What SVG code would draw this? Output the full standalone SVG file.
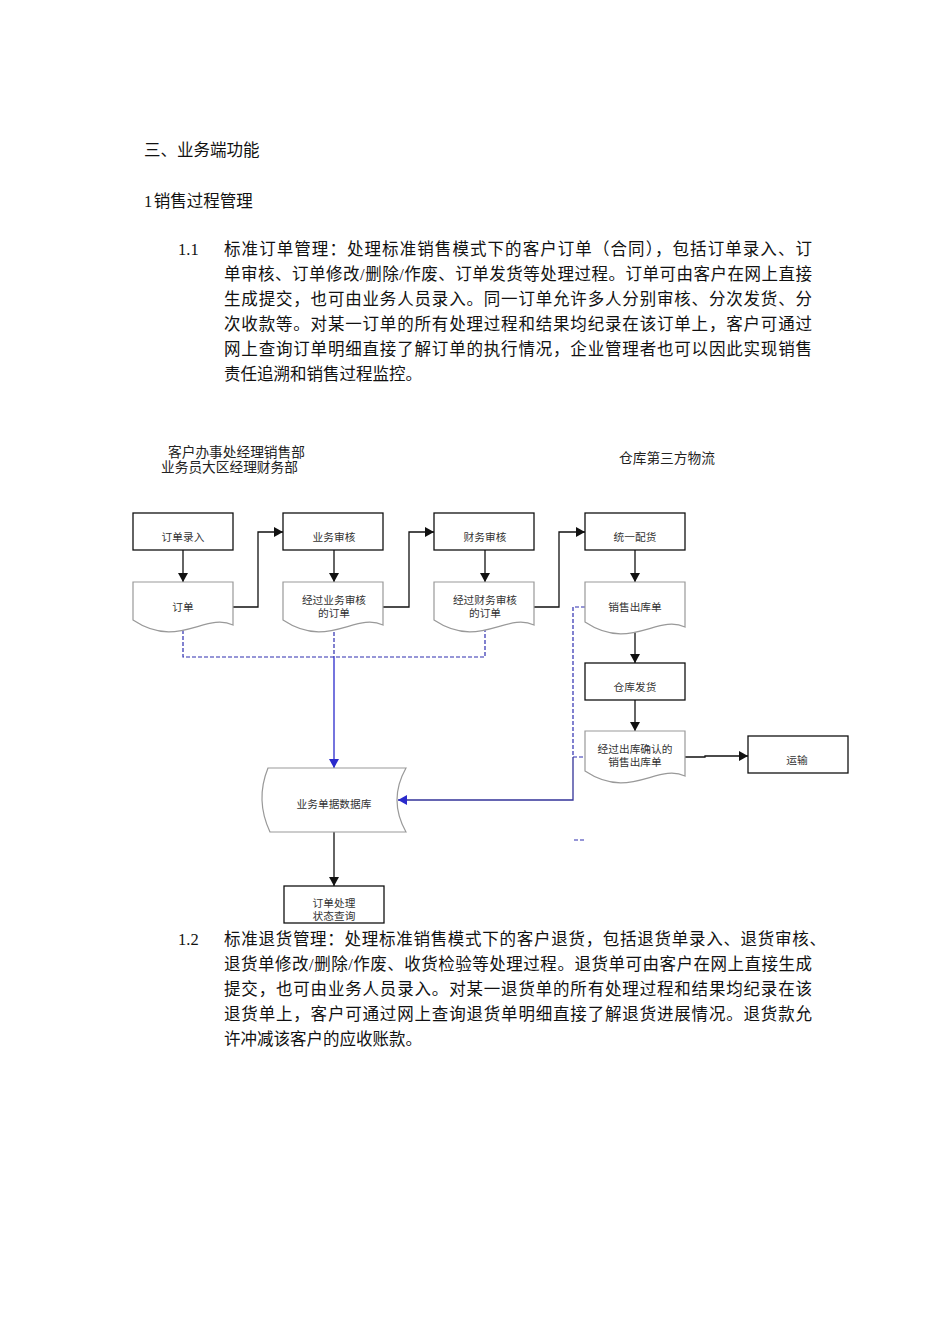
<svg xmlns="http://www.w3.org/2000/svg" width="950" height="1344" viewBox="0 0 950 1344">
<defs>
<style>
.body{font-family:"Liberation Serif","Noto Sans CJK SC",serif;font-size:16.5px;fill:#111}
.hdr{font-family:"Liberation Serif","Noto Sans CJK SC",serif;font-size:13.7px;fill:#222}
.nt{font-family:"Liberation Serif","Noto Sans CJK SC",serif;font-size:10.7px;fill:#333;text-anchor:middle}
.box{fill:#fff;stroke:#111;stroke-width:1.3}
.doc{fill:#fff;stroke:#999;stroke-width:1.2}
.ln{fill:none;stroke:#111;stroke-width:1.3}
.dash{fill:none;stroke:#2e2eb0;stroke-width:1.2;stroke-dasharray:4 2}
.blue{fill:none;stroke:#2a2acc;stroke-width:1.3}
.navy{fill:none;stroke:#333399;stroke-width:1.3}
</style>
<marker id="ab" markerUnits="userSpaceOnUse" markerWidth="9" markerHeight="10" refX="9" refY="5" orient="auto"><path d="M0,0 L9,5 L0,10 z" fill="#111"/></marker>
<marker id="abl" markerUnits="userSpaceOnUse" markerWidth="9" markerHeight="10" refX="9" refY="5" orient="auto"><path d="M0,0 L9,5 L0,10 z" fill="#2a2acc"/></marker>
</defs>
<rect width="950" height="1344" fill="#fff"/>

<g id="text-body">
<text class="body" x="144" y="156">三、业务端功能</text>
<text class="body" x="144" y="207">1<tspan dx="1.5">销售过程管理</tspan></text>
<text class="body" x="178" y="255">1.1</text>
<text class="body" x="224" y="255" textLength="588" lengthAdjust="spacing">标准订单管理：处理标准销售模式下的客户订单（合同），包括订单录入、订</text>
<text class="body" x="224" y="280" textLength="588" lengthAdjust="spacing">单审核、订单修改/删除/作废、订单发货等处理过程。订单可由客户在网上直接</text>
<text class="body" x="224" y="305" textLength="588" lengthAdjust="spacing">生成提交，也可由业务人员录入。同一订单允许多人分别审核、分次发货、分</text>
<text class="body" x="224" y="330" textLength="588" lengthAdjust="spacing">次收款等。对某一订单的所有处理过程和结果均纪录在该订单上，客户可通过</text>
<text class="body" x="224" y="355" textLength="588" lengthAdjust="spacing">网上查询订单明细直接了解订单的执行情况，企业管理者也可以因此实现销售</text>
<text class="body" x="224" y="380">责任追溯和销售过程监控。</text>

<text class="body" x="178" y="945">1.2</text>
<text class="body" x="224" y="945" textLength="602" lengthAdjust="spacing">标准退货管理：处理标准销售模式下的客户退货，包括退货单录入、退货审核、</text>
<text class="body" x="224" y="970" textLength="588" lengthAdjust="spacing">退货单修改/删除/作废、收货检验等处理过程。退货单可由客户在网上直接生成</text>
<text class="body" x="224" y="995" textLength="588" lengthAdjust="spacing">提交，也可由业务人员录入。对某一退货单的所有处理过程和结果均纪录在该</text>
<text class="body" x="224" y="1020" textLength="588" lengthAdjust="spacing">退货单上，客户可通过网上查询退货单明细直接了解退货进展情况。退货款允</text>
<text class="body" x="224" y="1045">许冲减该客户的应收账款。</text>
</g>

<g id="lane-headers">
<text class="hdr" x="168" y="457">客户办事处经理销售部</text>
<text class="hdr" x="161" y="472">业务员大区经理财务部</text>
<text class="hdr" x="619" y="463">仓库第三方物流</text>
</g>

<g id="connectors">
<path class="ln" d="M183,550 V582" marker-end="url(#ab)"/>
<path class="ln" d="M233,607 H258 V532 H283" marker-end="url(#ab)"/>
<path class="ln" d="M383,607 H409 V532 H434" marker-end="url(#ab)"/>
<path class="ln" d="M534,607 H559 V532 H585" marker-end="url(#ab)"/>
<path class="ln" d="M334,550 V582" marker-end="url(#ab)"/>
<path class="ln" d="M485,550 V582" marker-end="url(#ab)"/>
<path class="ln" d="M635,550 V582" marker-end="url(#ab)"/>
<path class="ln" d="M635,632 V663" marker-end="url(#ab)"/>
<path class="ln" d="M635,700 V731" marker-end="url(#ab)"/>
<path class="ln" d="M685,757 H705 V756 H748" marker-end="url(#ab)"/>
<path class="ln" d="M334,831 V886" marker-end="url(#ab)"/>
<path class="dash" d="M183,630 V657 H485 V630"/>
<path class="dash" d="M334,632 V657"/>
<path class="blue" d="M334,657 V768" marker-end="url(#abl)"/>
<path class="dash" d="M585,607 H573 V757 H585"/>
<path class="navy" d="M573,757 V800 H398" marker-end="url(#abl)"/>
<path class="dash" d="M574,840 H586"/>
</g>

<g id="n-order-entry"><rect class="box" x="133" y="513" width="100" height="37"/><text class="nt" x="183" y="541">订单录入</text></g>
<g id="n-biz-review"><rect class="box" x="283" y="513" width="100" height="37"/><text class="nt" x="334" y="541">业务审核</text></g>
<g id="n-fin-review"><rect class="box" x="434" y="513" width="100" height="37"/><text class="nt" x="485" y="541">财务审核</text></g>
<g id="n-allocate"><rect class="box" x="585" y="513" width="100" height="37"/><text class="nt" x="635" y="541">统一配货</text></g>

<g id="n-order"><path class="doc" d="M133,582 H233 V625 C205,612 178,650 133,620 Z"/><text class="nt" x="183" y="611">订单</text></g>
<g id="n-biz-order"><path class="doc" d="M283,582 H383 V625 C355,612 328,650 283,620 Z"/><text class="nt" x="334" y="604">经过业务审核</text><text class="nt" x="334" y="617">的订单</text></g>
<g id="n-fin-order"><path class="doc" d="M434,582 H534 V625 C506,612 479,650 434,620 Z"/><text class="nt" x="485" y="604">经过财务审核</text><text class="nt" x="485" y="617">的订单</text></g>
<g id="n-outbound"><path class="doc" d="M585,582 H685 V627 C657,614 630,652 585,622 Z"/><text class="nt" x="635" y="611">销售出库单</text></g>

<g id="n-ship"><rect class="box" x="585" y="663" width="100" height="37"/><text class="nt" x="635" y="691">仓库发货</text></g>
<g id="n-confirmed"><path class="doc" d="M585,731 H685 V776 C657,763 630,801 585,771 Z"/><text class="nt" x="635" y="753">经过出库确认的</text><text class="nt" x="635" y="766">销售出库单</text></g>
<g id="n-transport"><rect class="box" x="748" y="736" width="100" height="37"/><text class="nt" x="797" y="764">运输</text></g>

<g id="n-database"><path class="doc" d="M268,768 H406 Q388,800 406,832 H270 Q255,800 268,768 Z"/><text class="nt" x="334" y="808">业务单据数据库</text></g>
<g id="n-query"><rect class="box" x="284" y="886" width="100" height="37"/><text class="nt" x="334" y="907">订单处理</text><text class="nt" x="334" y="920">状态查询</text></g>
</svg>
